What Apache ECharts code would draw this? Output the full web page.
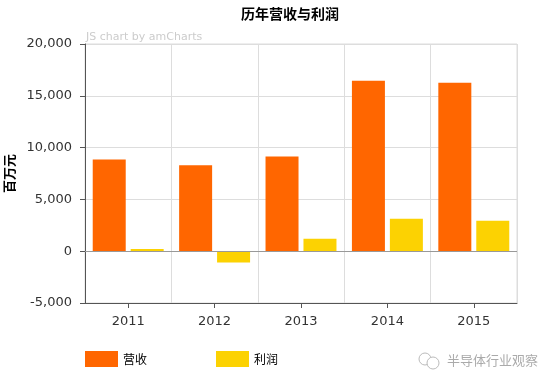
<!DOCTYPE html>
<html>
<head>
<meta charset="utf-8">
<script src="https://cdn.jsdelivr.net/npm/echarts@6/dist/echarts.min.js"></script>
<style>
html,body{margin:0;padding:0;background:#fff;}
#c{width:554px;height:385px;}
</style>
</head>
<body>
<div id="c"></div>
<script>
var categories = ['2011', '2012', '2013', '2014', '2015'];
var revenue = [8850, 8300, 9150, 16450, 16250];
var profit = [220, -1080, 1210, 3130, 2930];
var seriesNames = ['营收', '利润'];
var yTicks = [-5000, 0, 5000, 10000, 15000, 20000];

var chart = echarts.init(document.getElementById('c'), null, {renderer: 'canvas'});
var fam = 'DejaVu Sans, Verdana, sans-serif';
var cjk = '"Noto Sans CJK SC", sans-serif';
chart.setOption({
  animation: false,
  backgroundColor: '#fff',
  title: {
    text: '历年营收与利润',
    left: 236, top: 2,
    textStyle: {fontFamily: cjk, fontSize: 14, fontWeight: 'bold', color: '#000'}
  },
  grid: {left: 85, right: 37, top: 44, bottom: 82, show: true, borderColor: '#ddd', borderWidth: 1,
         containLabel: false, outerBoundsMode: 'none'},
  legend: {
    left: 80, top: 346,
    itemWidth: 33, itemHeight: 16, itemGap: 69,
    icon: 'rect',
    data: seriesNames,
    textStyle: {fontFamily: cjk, fontSize: 12, color: '#000'}
  },
  xAxis: {
    type: 'category',
    data: categories,
    axisLine: {onZero: false, lineStyle: {color: '#555', width: 1}},
    axisTick: {show: true, alignWithLabel: true, length: 5, lineStyle: {color: '#555'}},
    axisLabel: {fontFamily: fam, fontSize: 13, color: '#333', margin: 12},
    splitLine: {show: true, lineStyle: {color: '#ddd', width: 1}}
  },
  yAxis: {
    type: 'value',
    min: yTicks[0], max: yTicks[yTicks.length - 1], interval: 5000,
    name: '百万元',
    nameLocation: 'middle',
    nameGap: 63,
    nameRotate: 90,
    nameTextStyle: {fontFamily: cjk, fontSize: 13, fontWeight: 'bold', color: '#000'},
    axisLine: {show: true, lineStyle: {color: '#555', width: 1}},
    axisTick: {show: true, length: 5, lineStyle: {color: '#555'}},
    axisLabel: {
      fontFamily: fam, fontSize: 13, color: '#333', margin: 13,
      formatter: function (v) { return v.toLocaleString('en-US'); }
    },
    splitLine: {show: true, lineStyle: {color: '#ddd', width: 1}}
  },
  series: [
    {
      name: seriesNames[0], type: 'bar', data: revenue,
      barWidth: 33, barGap: '15%',
      itemStyle: {color: '#FF6600'},
      markLine: {
        silent: true, symbol: 'none', label: {show: false},
        lineStyle: {color: '#999', type: 'solid', width: 1},
        data: [{yAxis: 0}]
      }
    },
    {
      name: seriesNames[1], type: 'bar', data: profit,
      barWidth: 33, barGap: '15%',
      itemStyle: {color: '#FCD202'}
    }
  ],
  graphic: [
    {type: 'text', left: 86, top: 32, style: {text: 'JS chart by amCharts', font: '11px DejaVu Sans, Verdana, sans-serif', fill: '#ccc'}},
    {type: 'text', left: 447, top: 354, style: {text: '半导体行业观察', font: '13px "Noto Sans CJK SC", sans-serif', fill: '#aaa'}},
    {type: 'circle', shape: {cx: 425, cy: 359, r: 6}, style: {fill: 'none', stroke: '#bbb', lineWidth: 1}},
    {type: 'circle', shape: {cx: 433, cy: 363, r: 6}, style: {fill: '#fff', stroke: '#bbb', lineWidth: 1}}
  ]
});
</script>
</body>
</html>
